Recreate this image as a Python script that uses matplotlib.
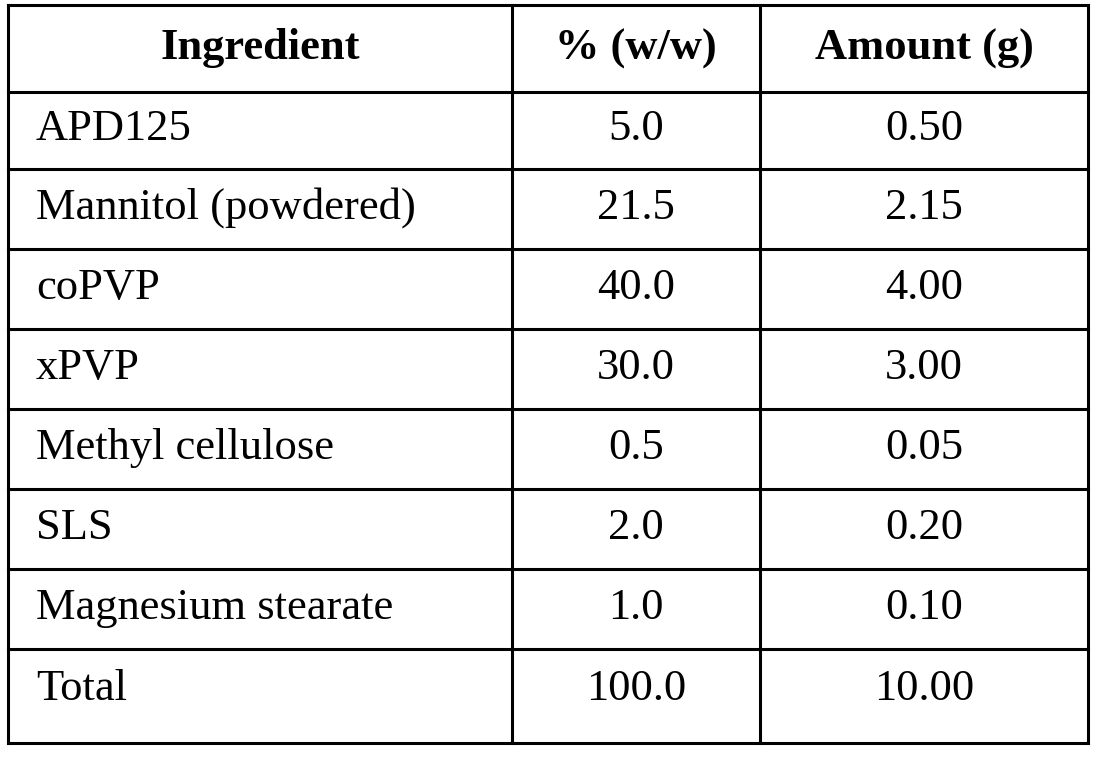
import matplotlib.pyplot as plt

headers = ["Ingredient", "% (w/w)", "Amount (g)"]
ingredients = ["APD125", "Mannitol (powdered)", "coPVP", "xPVP",
               "Methyl cellulose", "SLS", "Magnesium stearate", "Total"]
percents = ["5.0", "21.5", "40.0", "30.0", "0.5", "2.0", "1.0", "100.0"]
amounts = ["0.50", "2.15", "4.00", "3.00", "0.05", "0.20", "0.10", "10.00"]

# table grid in pixels
col_edges = [8, 512, 760, 1088]
row_edges = [5, 92, 169, 249, 329, 409, 489, 569, 649, 743]

fig = plt.figure(figsize=(10.99, 7.61), dpi=100)
ax = fig.add_axes([0, 0, 1, 1])
ax.set_xlim(0, 1099)
ax.set_ylim(761, 0)
ax.axis("off")

for x in col_edges:
    ax.plot([x, x], [row_edges[0], row_edges[-1]], color="black", lw=2.2)
for y in row_edges:
    ax.plot([col_edges[0], col_edges[-1]], [y, y], color="black", lw=2.2)

font = dict(family="Liberation Serif", fontsize=32, color="black", va="center")

for i, h in enumerate(headers):
    xc = (col_edges[i] + col_edges[i + 1]) / 2
    ax.text(xc, (row_edges[0] + row_edges[1]) / 2, h, ha="center",
            fontweight="bold", **font)

for r in range(len(ingredients)):
    yc = (row_edges[r + 1] + row_edges[r + 2]) / 2 - 1
    if r == len(ingredients) - 1:
        yc -= 6
    ax.text(36, yc, ingredients[r], ha="left", **font)
    ax.text((col_edges[1] + col_edges[2]) / 2, yc, percents[r], ha="center", **font)
    ax.text((col_edges[2] + col_edges[3]) / 2, yc, amounts[r], ha="center", **font)

fig.savefig("out.png", dpi=100, facecolor="white")
